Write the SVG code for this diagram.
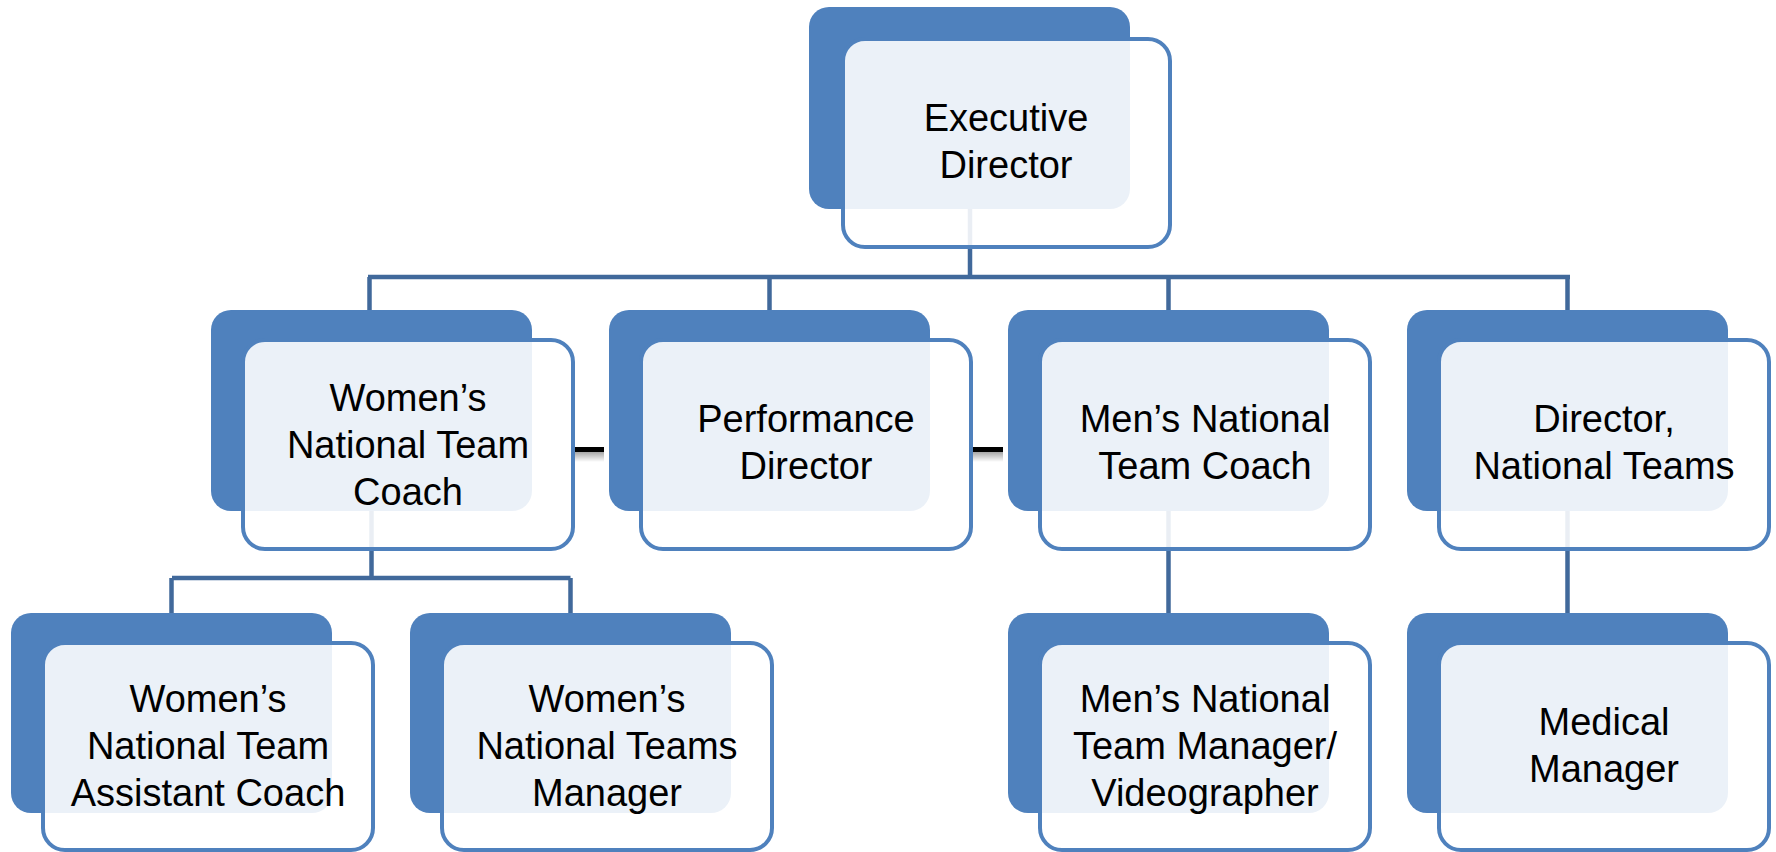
<svg xmlns="http://www.w3.org/2000/svg" width="1776" height="852" viewBox="0 0 1776 852">
<defs>
<style>
.bg{fill:#4F81BD}
.fg{fill:#FFFFFF;fill-opacity:0.89;stroke:#4F81BD;stroke-width:4}
.conn{stroke:#41699B;stroke-width:4.5;fill:none}
.t{font-family:"Liberation Sans",Arial,sans-serif;font-size:38px;fill:#000;text-anchor:middle}
</style>
<linearGradient id="sh" x1="0" y1="0" x2="0" y2="1">
<stop offset="0" stop-color="#000" stop-opacity="0.35"/>
<stop offset="1" stop-color="#000" stop-opacity="0"/>
</linearGradient>
</defs>
<rect width="1776" height="852" fill="#FFFFFF"/>
<g id="connectors">
<path class="conn" d="M970 209V277M368 277H1570M369.5 277V311M769.5 277V311M1168.5 277V311M1567.5 277V311"/>
<path class="conn" d="M371.5 511V578M172 578H570.5M171.5 578V614M570.5 578V614"/>
<path class="conn" d="M1168.5 511V614M1567.5 511V614"/>
<rect x="573" y="447" width="31" height="5" fill="#000"/>
<rect x="573" y="452" width="31" height="10" fill="url(#sh)"/>
<rect x="972" y="447" width="31" height="5" fill="#000"/>
<rect x="972" y="452" width="31" height="10" fill="url(#sh)"/>
</g>
<g id="n-exec">
<rect class="bg" x="809" y="7" width="321" height="202" rx="20"/>
<rect class="fg" x="843" y="39" width="327" height="208" rx="22"/>
<text class="t" x="1006" y="131">Executive</text>
<text class="t" x="1006" y="178">Director</text>
</g>
<g id="n-wcoach">
<rect class="bg" x="211" y="310" width="321" height="201" rx="20"/>
<rect class="fg" x="243" y="340" width="330" height="209" rx="22"/>
<text class="t" x="408" y="411">Women’s</text>
<text class="t" x="408" y="458">National Team</text>
<text class="t" x="408" y="505">Coach</text>
</g>
<g id="n-perf">
<rect class="bg" x="609" y="310" width="321" height="201" rx="20"/>
<rect class="fg" x="641" y="340" width="330" height="209" rx="22"/>
<text class="t" x="806" y="432">Performance</text>
<text class="t" x="806" y="479">Director</text>
</g>
<g id="n-mcoach">
<rect class="bg" x="1008" y="310" width="321" height="201" rx="20"/>
<rect class="fg" x="1040" y="340" width="330" height="209" rx="22"/>
<text class="t" x="1205" y="432">Men’s National</text>
<text class="t" x="1205" y="479">Team Coach</text>
</g>
<g id="n-dirnt">
<rect class="bg" x="1407" y="310" width="321" height="201" rx="20"/>
<rect class="fg" x="1439" y="340" width="330" height="209" rx="22"/>
<text class="t" x="1604" y="432">Director,</text>
<text class="t" x="1604" y="479">National Teams</text>
</g>
<g id="n-wassist">
<rect class="bg" x="11" y="613" width="321" height="200" rx="20"/>
<rect class="fg" x="43" y="643" width="330" height="207" rx="22"/>
<text class="t" x="208" y="712">Women’s</text>
<text class="t" x="208" y="759">National Team</text>
<text class="t" x="208" y="806">Assistant Coach</text>
</g>
<g id="n-wmanager">
<rect class="bg" x="410" y="613" width="321" height="200" rx="20"/>
<rect class="fg" x="442" y="643" width="330" height="207" rx="22"/>
<text class="t" x="607" y="712">Women’s</text>
<text class="t" x="607" y="759">National Teams</text>
<text class="t" x="607" y="806">Manager</text>
</g>
<g id="n-mmanager">
<rect class="bg" x="1008" y="613" width="321" height="200" rx="20"/>
<rect class="fg" x="1040" y="643" width="330" height="207" rx="22"/>
<text class="t" x="1205" y="712">Men’s National</text>
<text class="t" x="1205" y="759">Team Manager/</text>
<text class="t" x="1205" y="806">Videographer</text>
</g>
<g id="n-medical">
<rect class="bg" x="1407" y="613" width="321" height="200" rx="20"/>
<rect class="fg" x="1439" y="643" width="330" height="207" rx="22"/>
<text class="t" x="1604" y="735">Medical</text>
<text class="t" x="1604" y="782">Manager</text>
</g>
</svg>
